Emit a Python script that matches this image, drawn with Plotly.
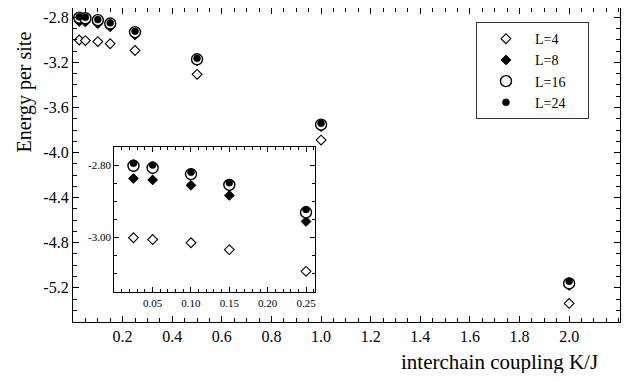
import plotly.graph_objects as go

# ---- data ----
K = [0.025, 0.05, 0.10, 0.15, 0.25, 0.5, 1.0, 2.0]
E_L4 = [-3.001, -3.006, -3.015, -3.034, -3.094, -3.306, -3.889, -5.339]
E_L8 = [-2.837, -2.841, -2.856, -2.884, -2.956, -3.185, -3.770, -5.180]
E_L16 = [-2.802, -2.808, -2.825, -2.855, -2.931, -3.172, -3.752, -5.162]
E_L24 = [-2.795, -2.800, -2.820, -2.849, -2.923, -3.164, -3.741, -5.143]
series_names = ["L=4", "L=8", "L=16", "L=24"]
N_INSET = 5  # first five couplings shown in inset

main_xticks = [0.2, 0.4, 0.6, 0.8, 1.0, 1.2, 1.4, 1.6, 1.8, 2.0]
main_xticktext = ["0.2", "0.4", "0.6", "0.8", "1.0", "1.2", "1.4", "1.6", "1.8", "2.0"]
main_yticks = [-2.8, -3.2, -3.6, -4.0, -4.4, -4.8, -5.2]
main_yticktext = ["-2.8", "-3.2", "-3.6", "-4.0", "-4.4", "-4.8", "-5.2"]
inset_xticks = [0.05, 0.10, 0.15, 0.20, 0.25]
inset_xticktext = ["0.05", "0.10", "0.15", "0.20", "0.25"]
inset_yticks = [-2.80, -3.00]
inset_yticktext = ["-2.80", "-3.00"]

FONT = "Liberation Serif"
PAD = "\u00a0" * 5  # extra room at the right side of the legend box

styles = [
    dict(symbol="diamond", size=7.5, color="white", line=dict(color="black", width=1.1)),
    dict(symbol="diamond", size=7.5, color="black", line=dict(color="black", width=1)),
    dict(symbol="circle", size=11, color="white", line=dict(color="black", width=1.4)),
    dict(symbol="circle", size=7, color="black", line=dict(color="black", width=0.5)),
]
all_series = [E_L4, E_L8, E_L16, E_L24]

fig = go.Figure()
for name, ys, st in zip(series_names, all_series, styles):
    fig.add_trace(go.Scatter(x=K, y=ys, mode="markers", name=name + PAD, marker=st,
                             xaxis="x", yaxis="y", showlegend=True))
for name, ys, st in zip(series_names, all_series, styles):
    fig.add_trace(go.Scatter(x=K[:N_INSET], y=ys[:N_INSET], mode="markers", name=name,
                             marker=st, xaxis="x2", yaxis="y2", showlegend=False))

ax_common = dict(showline=True, linecolor="black", linewidth=1.3, mirror="ticks",
                 ticks="inside", tickcolor="black", showgrid=False, zeroline=False)

# page body has an 8px margin, so the figure is sized/offset to compensate
fig.update_layout(
    width=615, height=365,
    margin=dict(l=65, r=3, t=0, b=51),
    paper_bgcolor="white", plot_bgcolor="white",
    font=dict(family=FONT, color="black"),
    xaxis=dict(domain=[0, 1], range=[0, 2.205], tickmode="array", tickvals=main_xticks,
               ticktext=main_xticktext, ticklen=6, tickwidth=1,
               minor=dict(dtick=0.05, tick0=0, ticks="inside", ticklen=3.5, tickcolor="black"),
               tickfont=dict(size=16, family=FONT), **ax_common),
    yaxis=dict(domain=[0, 1], range=[-5.504, -2.717], tickmode="array", tickvals=main_yticks,
               ticktext=main_yticktext, ticklen=6, tickwidth=1,
               minor=dict(dtick=0.1, tick0=-2.8, ticks="inside", ticklen=3.5, tickcolor="black"),
               tickfont=dict(size=16, family=FONT), **ax_common),
    xaxis2=dict(domain=[0.0755, 0.4424], range=[0, 0.2617], anchor="y2", tickmode="array",
                tickvals=inset_xticks, ticktext=inset_xticktext, ticklen=5, tickwidth=1,
                minor=dict(dtick=0.01, tick0=0, ticks="inside", ticklen=3, tickcolor="black"),
                tickfont=dict(size=11, family=FONT), **ax_common),
    yaxis2=dict(domain=[0.0946, 0.5573], range=[-3.152, -2.750], anchor="x2", tickmode="array",
                tickvals=inset_yticks, ticktext=inset_yticktext, ticklen=5, tickwidth=1,
                minor=dict(dtick=0.05, tick0=-2.8, ticks="inside", ticklen=3, tickcolor="black"),
                tickfont=dict(size=11, family=FONT), **ax_common),
    legend=dict(x=0.7367, y=0.955, xanchor="left", yanchor="top",
                bordercolor="#333333", borderwidth=1, bgcolor="white",
                font=dict(size=14, family=FONT), itemwidth=48, tracegroupgap=0),
    annotations=[
        dict(text="Energy per site", xref="paper", yref="paper", x=-0.087, y=0.7325,
             textangle=-90, showarrow=False, font=dict(size=20, family=FONT),
             xanchor="center", yanchor="middle"),
        dict(text="interchain coupling K/J", xref="paper", yref="paper", x=0.7806, y=-0.1274,
             showarrow=False, font=dict(size=21, family=FONT),
             xanchor="center", yanchor="middle"),
    ],
)

fig.write_html("out.html")
